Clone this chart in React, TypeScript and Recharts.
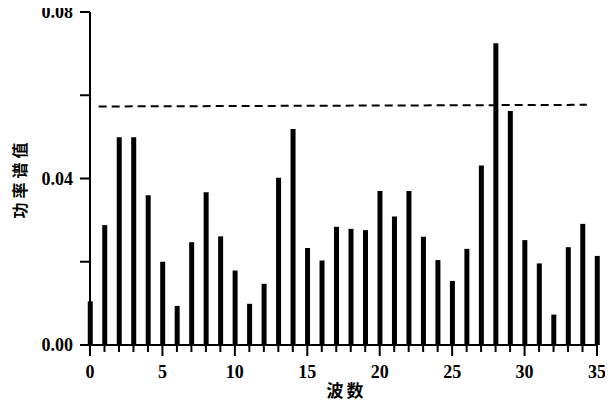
import React from 'react';
import { BarChart, Bar, XAxis, YAxis, ReferenceLine } from 'recharts';

// wave number 0..35 and power spectrum value for each
const waveNumbers = [
  0, 1, 2, 3, 4, 5, 6, 7, 8, 9, 10, 11, 12, 13, 14, 15, 16, 17,
  18, 19, 20, 21, 22, 23, 24, 25, 26, 27, 28, 29, 30, 31, 32, 33, 34, 35,
];
const powerValues = [
  0.0105, 0.0288, 0.0499, 0.0499, 0.036, 0.020, 0.0094, 0.0247, 0.0367, 0.0261,
  0.0179, 0.0099, 0.0147, 0.0402, 0.0519, 0.0233, 0.0203, 0.0284, 0.0279, 0.0276,
  0.037, 0.0309, 0.037, 0.026, 0.0204, 0.0154, 0.0231, 0.0431, 0.0725, 0.0562,
  0.0252, 0.0196, 0.0073, 0.0235, 0.0291, 0.0214,
];
// significance line (dashed)
const thresholdStart = { x: 0.6, y: 0.0573 };
const thresholdEnd = { x: 34.3, y: 0.0577 };

const xTicks = waveNumbers;
const xLabelled = [0, 5, 10, 15, 20, 25, 30, 35];
const yTicks = [0, 0.02, 0.04, 0.06, 0.08];
const yLabelled = [0, 0.04, 0.08];

const data = waveNumbers.map((k, i) => ({ k, value: powerValues[i] }));

const numFont = '"Liberation Serif", serif';
const cjkFont = { fill: '#000', fontFamily: '"Noto Sans CJK SC", sans-serif', fontWeight: 'bold', fontSize: 16 };
const tickStroke = { stroke: '#000', strokeWidth: 2 };

// only every fifth wave number gets a label, the others just a tick mark
const XTick = ({ x, y, payload }: any) =>
  xLabelled.includes(payload.value) ? (
    <g>
      <line x1={x} x2={x} y1={y} y2={y + 4} {...tickStroke} />
      <text x={x} y={y + 26} textAnchor="middle" fontFamily={numFont} fontWeight="bold" fontSize={18} fill="#000">
        {payload.value}
      </text>
    </g>
  ) : (
    <g />
  );

const YTick = ({ x, y, payload }: any) =>
  yLabelled.some((v) => Math.abs(v - payload.value) < 1e-9) ? (
    <text x={x - 7} y={y + 6} textAnchor="end" fontFamily={numFont} fontWeight="bold" fontSize={18} fill="#000">
      {payload.value.toFixed(2)}
    </text>
  ) : (
    <g />
  );

export default function App() {
  return (
    <div style={{ margin: '-8px 0 0 -8px' }}>
      <BarChart width={613} height={404} data={data} margin={{ top: 12, right: 16, left: 0, bottom: 7 }}>
        <XAxis
          type="number"
          dataKey="k"
          domain={[0, 35]}
          ticks={xTicks}
          interval={0}
          axisLine={tickStroke}
          tickLine={tickStroke}
          tickSize={7}
          tickMargin={0}
          tick={<XTick />}
          height={52}
          label={{ value: '波数', position: 'insideBottom', offset: 0, dx: 3, style: { ...cjkFont, fontSize: 17, letterSpacing: 3 } }}
        />
        <YAxis
          domain={[0, 0.08]}
          ticks={yTicks}
          interval={0}
          width={90}
          axisLine={tickStroke}
          tickLine={tickStroke}
          tickSize={10}
          tickMargin={0}
          tick={<YTick />}
          label={{ value: '功率谱值', angle: -90, position: 'insideLeft', offset: 20, style: { ...cjkFont, letterSpacing: 4, textAnchor: 'middle' } }}
        />
        <Bar dataKey="value" fill="#000" barSize={5} isAnimationActive={false} />
        <ReferenceLine
          segment={[thresholdStart, thresholdEnd]}
          stroke="#000"
          strokeWidth={2}
          strokeDasharray="8 5"
          ifOverflow="extendDomain"
        />
      </BarChart>
    </div>
  );
}
